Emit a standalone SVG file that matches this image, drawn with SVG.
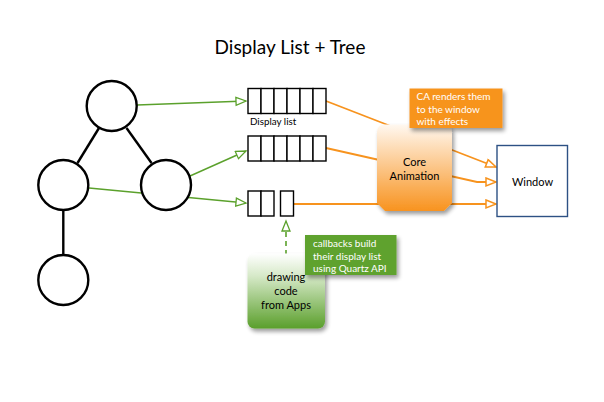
<svg xmlns="http://www.w3.org/2000/svg" width="604" height="402" viewBox="0 0 604 402">
<style>
.t{font-family:"Lato","Liberation Sans",sans-serif;}
.circ{fill:#fff;stroke:#000;stroke-width:2.4;}
.edge{stroke:#000;stroke-width:2.4;fill:none;}
.g{stroke:#5ba12c;stroke-width:1.4;fill:none;}
.o{stroke:#f7931e;stroke-width:1.8;fill:none;}
.cell{fill:#fff;stroke:#000;stroke-width:1.4;}
.wt{font-size:10px;fill:#fff;}
.bt{font-size:11px;text-anchor:middle;}
</style>
<defs>
<marker id="ag" markerUnits="userSpaceOnUse" markerWidth="14" markerHeight="12" refX="11" refY="5" orient="auto">
<path d="M1,1 L11,5 L1,9 Z" fill="#fff" stroke="#5ba12c" stroke-width="1.3"/>
</marker>
<marker id="ao" markerUnits="userSpaceOnUse" markerWidth="14" markerHeight="12" refX="11" refY="5" orient="auto">
<path d="M1,1 L11,5 L1,9 Z" fill="#fff" stroke="#f7931e" stroke-width="1.5"/>
</marker>
<linearGradient id="gOr" x1="0" y1="0" x2="0" y2="1">
<stop offset="0" stop-color="#fff8f0"/>
<stop offset="0.3" stop-color="#fdd9b0"/>
<stop offset="1" stop-color="#f8931f"/>
</linearGradient>
<linearGradient id="gGr" x1="0" y1="0" x2="0" y2="1">
<stop offset="0" stop-color="#ffffff"/>
<stop offset="0.3" stop-color="#d6e9c8"/>
<stop offset="1" stop-color="#5a9f2b"/>
</linearGradient>
<filter id="sh" x="-20%" y="-20%" width="150%" height="150%">
<feGaussianBlur in="SourceAlpha" stdDeviation="2"/>
<feOffset dx="2" dy="3"/>
<feComponentTransfer><feFuncA type="linear" slope="0.4"/></feComponentTransfer>
<feMerge><feMergeNode/><feMergeNode in="SourceGraphic"/></feMerge>
</filter>
</defs>
<rect width="604" height="402" fill="#fff"/>
<text class="t" x="290" y="54" font-size="19" text-anchor="middle">Display List + Tree</text>

<g id="connectors">
<line class="edge" x1="99" y1="128" x2="77.5" y2="163"/>
<line class="edge" x1="126.5" y1="128" x2="151.5" y2="163"/>
<line class="edge" x1="63.3" y1="210" x2="63.3" y2="255"/>
<line class="g" x1="137" y1="105" x2="246" y2="101" marker-end="url(#ag)"/>
<line class="g" x1="190" y1="176" x2="246" y2="151" marker-end="url(#ag)"/>
<line class="g" x1="89" y1="188" x2="246" y2="203" marker-end="url(#ag)"/>
<line class="o" x1="326" y1="101" x2="496" y2="167" marker-end="url(#ao)"/>
<polyline class="o" points="326,148 477,182 496,182" marker-end="url(#ao)"/>
<line class="o" x1="293" y1="204" x2="496" y2="204" marker-end="url(#ao)"/>
<line x1="286" y1="255" x2="286" y2="221" stroke="#5ba12c" stroke-width="1.6" stroke-dasharray="5,4" marker-end="url(#ag)"/>
</g>

<g id="tree-top"><circle class="circ" cx="111.7" cy="106" r="25"/></g>
<g id="tree-left"><circle class="circ" cx="63.3" cy="185" r="25"/></g>
<g id="tree-right"><circle class="circ" cx="166" cy="185" r="25"/></g>
<g id="tree-bottom"><circle class="circ" cx="63.3" cy="280" r="25"/></g>

<g id="list1">
<rect class="cell" x="248" y="88.5" width="13" height="25"/>
<rect class="cell" x="261" y="88.5" width="13" height="25"/>
<rect class="cell" x="274" y="88.5" width="13" height="25"/>
<rect class="cell" x="287" y="88.5" width="13" height="25"/>
<rect class="cell" x="300" y="88.5" width="13" height="25"/>
<rect class="cell" x="313" y="88.5" width="13" height="25"/>
<text class="t" x="250" y="125" font-size="9.8">Display list</text>
</g>
<g id="list2">
<rect class="cell" x="248" y="136" width="13" height="25"/>
<rect class="cell" x="261" y="136" width="13" height="25"/>
<rect class="cell" x="274" y="136" width="13" height="25"/>
<rect class="cell" x="287" y="136" width="13" height="25"/>
<rect class="cell" x="300" y="136" width="13" height="25"/>
<rect class="cell" x="313" y="136" width="13" height="25"/>
</g>
<g id="list3">
<rect class="cell" x="248" y="191" width="13" height="25"/>
<rect class="cell" x="261" y="191" width="13" height="25"/>
<rect class="cell" x="280.5" y="191" width="13" height="25"/>
</g>

<g id="core-animation">
<path d="M385,124.5 L444,124.5 Q452,124.5 452,132.5 L452,203 L444,211 L385,211 L377,203 L377,132.5 Q377,124.5 385,124.5 Z" fill="url(#gOr)" filter="url(#sh)"/>
<text class="t bt" x="414.5" y="166">Core</text>
<text class="t bt" x="414.5" y="180">Animation</text>
</g>

<g id="ca-callout">
<rect x="409.5" y="88.5" width="93" height="39.5" fill="#f7941e" filter="url(#sh)"/>
<text class="t wt" x="416.5" y="99.5">CA renders them</text>
<text class="t wt" x="416.5" y="112.5">to the window</text>
<text class="t wt" x="416.5" y="125">with effects</text>
</g>

<g id="window">
<rect x="497" y="145.5" width="70.5" height="71" fill="#fff" stroke="#2d5184" stroke-width="1.4"/>
<text class="t bt" x="532.5" y="186">Window</text>
</g>

<g id="drawing-code">
<rect x="247.5" y="253.5" width="77.5" height="75" rx="7" fill="url(#gGr)" filter="url(#sh)"/>
<text class="t bt" x="286" y="281">drawing</text>
<text class="t bt" x="286" y="295">code</text>
<text class="t bt" x="286" y="309">from Apps</text>
</g>

<g id="callbacks-callout">
<rect x="305" y="235" width="91.5" height="40" fill="#5ea22f" filter="url(#sh)"/>
<text class="t wt" x="313" y="247">callbacks build</text>
<text class="t wt" x="313" y="259.5">their display list</text>
<text class="t wt" x="313" y="272">using Quartz API</text>
</g>
</svg>
